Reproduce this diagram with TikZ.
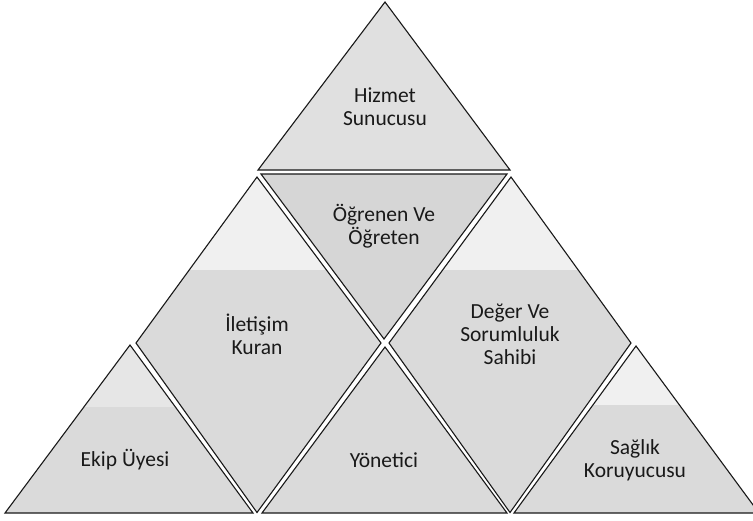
\documentclass[tikz,border=0pt]{standalone}
\usepackage{fontspec}
\setmainfont{Carlito}
\definecolor{segA}{RGB}{224,224,224}
\definecolor{segB}{RGB}{214,214,214}
\definecolor{segC}{RGB}{218,218,218}
\definecolor{segL}{RGB}{240,240,240}
\definecolor{segM}{RGB}{230,230,230}
\definecolor{ink}{RGB}{25,25,25}
\begin{document}
\begin{tikzpicture}[x=1pt,y=-1pt,
  seg/.style={draw=ink, line width=1.1pt, line join=miter},
  lbl/.style={font=\fontsize{21.5}{23}\selectfont, align=center, text=ink, inner sep=0pt}]
\useasboundingbox (0,0) rectangle (753,520);
\clip (0,0) rectangle (753,520);
\fill[white] (0,0) rectangle (753,520);

% vertices
\coordinate (h1) at (385,2);   \coordinate (h2) at (510,170); \coordinate (h3) at (258,170);
\coordinate (o1) at (261,174); \coordinate (o2) at (507,174); \coordinate (o3) at (384,339);
\coordinate (i1) at (257,177); \coordinate (i2) at (381,343); \coordinate (i3) at (257,512.5); \coordinate (i4) at (136,343);
\coordinate (d1) at (511,177); \coordinate (d2) at (631,343); \coordinate (d3) at (510,512.5); \coordinate (d4) at (389,343);
\coordinate (e1) at (130,345); \coordinate (e2) at (253,513); \coordinate (e3) at (5,513);
\coordinate (y1) at (385,347); \coordinate (y2) at (507,513); \coordinate (y3) at (262,513);
\coordinate (s1) at (636,346); \coordinate (s2) at (759,513); \coordinate (s3) at (514,513);

% fills
\fill[segA] (h1) -- (h2) -- (h3) -- cycle;
\fill[segB] (o1) -- (o2) -- (o3) -- cycle;
\fill[segC] (i1) -- (i2) -- (i3) -- (i4) -- cycle;
\fill[segC] (d1) -- (d2) -- (d3) -- (d4) -- cycle;
\fill[segC] (e1) -- (e2) -- (e3) -- cycle;
\fill[segC] (y1) -- (y2) -- (y3) -- cycle;
\fill[segC] (s1) -- (s2) -- (s3) -- cycle;

% lighter scan patches
\begin{scope}
  \clip (i1) -- (i2) -- (i3) -- (i4) -- cycle;
  \fill[segL] (0,0) rectangle (753,270);
\end{scope}
\begin{scope}
  \clip (d1) -- (d2) -- (d3) -- (d4) -- cycle;
  \fill[segL] (0,0) rectangle (753,270);
\end{scope}
\begin{scope}
  \clip (s1) -- (s2) -- (s3) -- cycle;
  \fill[segL] (0,0) rectangle (753,405);
\end{scope}
\begin{scope}
  \clip (e1) -- (e2) -- (e3) -- cycle;
  \fill[segM] (0,0) rectangle (753,407);
\end{scope}

% outlines
\draw[seg] (h1) -- (h2) -- (h3) -- cycle;
\draw[seg] (o1) -- (o2) -- (o3) -- cycle;
\draw[seg] (i1) -- (i2) -- (i3) -- (i4) -- cycle;
\draw[seg] (d1) -- (d2) -- (d3) -- (d4) -- cycle;
\draw[seg] (e1) -- (e2) -- (e3) -- cycle;
\draw[seg] (y1) -- (y2) -- (y3) -- cycle;
\draw[seg] (s1) -- (s2) -- (s3) -- cycle;

% labels
\node[lbl] (thizmet) at (385,107) {Hizmet\\Sunucusu};
\node[lbl] (togren) at (384,226) {Öğrenen Ve\\Öğreten};
\node[lbl] (tilet) at (257,334) {İletişim\\Kuran};
\node[lbl] (tdeger) at (510,334) {Değer Ve\\Sorumluluk\\Sahibi};
\node[lbl] (tekip) at (125,460) {Ekip Üyesi};
\node[lbl] (tyon) at (384,460) {Yönetici};
\node[lbl] (tsag) at (635,460) {Sağlık\\Koruyucusu};
\end{tikzpicture}
\end{document}
